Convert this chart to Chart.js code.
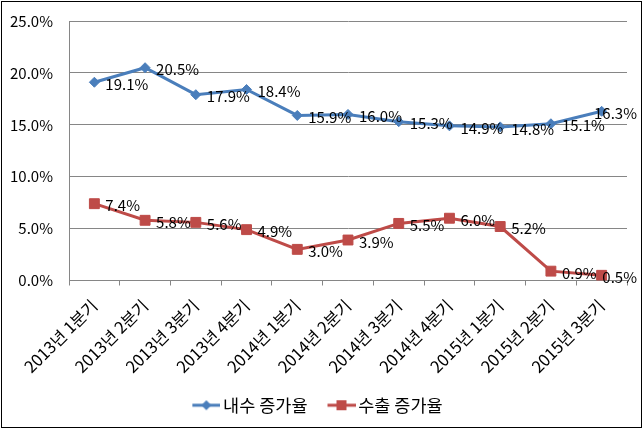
<!DOCTYPE html>
<html>
<head>
<meta charset="utf-8">
<script src="https://cdn.jsdelivr.net/npm/chart.js@4"></script>
<style>
  html, body { margin: 0; padding: 0; background: #fff; }
  #wrap { position: relative; width: 643px; height: 429px; }
  #frame { position: absolute; left: 1px; top: 1px; width: 639px; height: 425px; border: 1.5px solid #000; pointer-events: none; }
</style>
</head>
<body>
<div id="wrap">
  <canvas id="myChart" width="643" height="429"></canvas>
  <div id="frame"></div>
</div>
<script>
const quarters = ['2013년 1분기', '2013년 2분기', '2013년 3분기', '2013년 4분기', '2014년 1분기', '2014년 2분기',
  '2014년 3분기', '2014년 4분기', '2015년 1분기', '2015년 2분기', '2015년 3분기'];
const domesticRate = [19.1, 20.5, 17.9, 18.4, 15.9, 16.0, 15.3, 14.9, 14.8, 15.1, 16.3];
const exportRate = [7.4, 5.8, 5.6, 4.9, 3.0, 3.9, 5.5, 6.0, 5.2, 0.9, 0.5];
const yTicks = [0, 5, 10, 15, 20, 25];

const BLUE = '#4A7EBB';
const RED = '#BE4B48';
const FONT = '"Noto Sans CJK KR", "Noto Sans", sans-serif';

// legend icon: line + marker, drawn in the right part of a wider canvas
// so it sits close to its text and leaves a gap before it
const legendIcon = (color, shape) => {
  const c = document.createElement('canvas');
  c.width = 42; c.height = 12;
  const g = c.getContext('2d');
  g.strokeStyle = color;
  g.lineWidth = 3;
  g.beginPath(); g.moveTo(14, 6); g.lineTo(42, 6); g.stroke();
  g.fillStyle = color;
  g.beginPath();
  if (shape === 'diamond') {
    g.moveTo(28, 1); g.lineTo(33, 6); g.lineTo(28, 11); g.lineTo(23, 6);
  } else {
    g.rect(23, 1, 10, 10);
  }
  g.fill();
  return c;
};

// value labels to the right of each point, pushed back inside near the right edge
const valueLabels = {
  id: 'valueLabels',
  afterDatasetsDraw(chart) {
    const ctx = chart.ctx;
    ctx.save();
    ctx.font = '15px ' + FONT;
    ctx.fillStyle = '#000';
    ctx.textAlign = 'left';
    ctx.textBaseline = 'middle';
    chart.data.datasets.forEach((ds, i) => {
      chart.getDatasetMeta(i).data.forEach((pt, j) => {
        const txt = ds.data[j].toFixed(1) + '%';
        const w = ctx.measureText(txt).width;
        const x = Math.min(pt.x + 11, 637 - w);
        ctx.fillText(txt, x, pt.y + 2);
      });
    });
    ctx.restore();
  }
};

const ctx = document.getElementById('myChart').getContext('2d');
new Chart(ctx, {
  type: 'line',
  data: {
    labels: quarters,
    datasets: [{
      label: '내수 증가율',
      data: domesticRate,
      borderColor: BLUE,
      backgroundColor: BLUE,
      borderWidth: 3,
      pointStyle: 'rectRot',
      pointRadius: 5,
      pointBorderWidth: 1,
      tension: 0,
      legendIcon: legendIcon(BLUE, 'diamond')
    }, {
      label: '수출 증가율',
      data: exportRate,
      borderColor: RED,
      backgroundColor: RED,
      borderWidth: 3,
      pointStyle: 'rect',
      pointRadius: 7,
      pointBorderWidth: 1,
      tension: 0,
      legendIcon: legendIcon(RED, 'square')
    }]
  },
  options: {
    responsive: false,
    animation: false,
    layout: { padding: { top: 21, right: 16, bottom: 5, left: 0 } },
    scales: {
      x: {
        offset: true,
        afterFit: (scale) => { scale.height = 104; },
        grid: { offset: true, drawOnChartArea: false, drawTicks: true, tickLength: 5, color: '#868686' },
        border: { color: '#868686', width: 1 },
        ticks: { minRotation: 45, maxRotation: 45, autoSkip: false, color: '#000', font: { family: FONT, size: 16.5 }, padding: 10 }
      },
      y: {
        min: 0,
        max: 25,
        afterBuildTicks: (scale) => { scale.ticks = yTicks.map(v => ({ value: v })); },
        afterFit: (scale) => { scale.width = 69; },
        grid: { color: '#868686', drawTicks: true, tickLength: 12, tickColor: 'rgba(0,0,0,0)' },
        border: { color: '#868686', width: 1 },
        ticks: { color: '#000', font: { family: FONT, size: 15 }, padding: 4, callback: v => v.toFixed(1) + '%' }
      }
    },
    plugins: {
      legend: {
        position: 'bottom',
        labels: {
          usePointStyle: true,
          pointStyleWidth: 30,
          color: '#000',
          font: { family: FONT, size: 17.5 },
          padding: 12,
          generateLabels: (chart) => chart.data.datasets.map((ds, i) => ({
            text: ds.label,
            pointStyle: ds.legendIcon,
            fillStyle: ds.borderColor,
            strokeStyle: ds.borderColor,
            lineWidth: 0,
            datasetIndex: i,
            hidden: false
          }))
        }
      },
      tooltip: { enabled: false }
    }
  },
  plugins: [valueLabels]
});
</script>
</body>
</html>
